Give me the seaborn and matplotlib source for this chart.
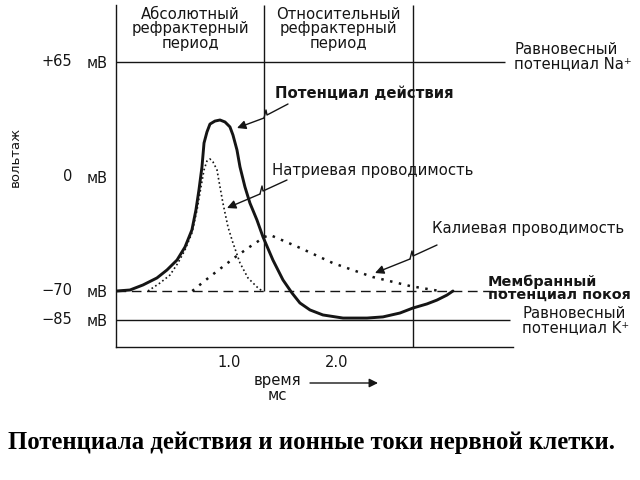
import numpy as np
import pandas as pd
import matplotlib
matplotlib.use("Agg")
import matplotlib.pyplot as plt
from matplotlib.lines import Line2D
import seaborn as sns

# ---------------- data ----------------
ap_time = [-0.04, 0.083, 0.204, 0.333, 0.426, 0.519, 0.593, 0.657, 0.694, 0.722,
           0.750, 0.769, 0.796, 0.824, 0.870, 0.917, 0.963, 1.009, 1.037, 1.074,
           1.102, 1.148, 1.194, 1.259, 1.315, 1.407, 1.500, 1.583, 1.657, 1.750,
           1.870, 2.056, 2.278, 2.426, 2.583, 2.704, 2.833, 2.926, 3.019, 3.074]
ap_mv = [-70, -69.4, -66.3, -62.0, -57.1, -51.0, -43.0, -32.5, -20.3, -8.0,
         5.7, 19.2, 25.4, 29.9, 31.6, 32.2, 31.1, 28.3, 23.7, 15.3,
         5.7, -6.1, -16.0, -26.4, -36.8, -51.0, -63.2, -71.0, -76.2, -79.8,
         -82.4, -84.0, -84.0, -83.4, -81.4, -78.8, -76.7, -74.7, -72.1, -70]

na_time = [0.25, 0.361, 0.454, 0.528, 0.593, 0.657, 0.704, 0.741, 0.769, 0.796,
           0.824, 0.852, 0.889, 0.917, 0.944, 0.991, 1.037, 1.102, 1.176, 1.259, 1.306]
na_mv = [-70, -65.1, -60.2, -52.8, -44.8, -34.4, -20.3, -6.1, 4.0, 9.0,
         10.2, 8.5, 4.0, -6.1, -16.0, -30.7, -40.5, -52.8, -62.0, -67.5, -70]

k_time = [0.66, 0.82, 1.06, 1.19, 1.33, 1.38, 1.66, 1.96, 2.33, 2.68, 2.95]
k_mv = [-70, -61.4, -49.1, -43.0, -36.8, -35.6, -43.6, -52.8, -61.4, -67.0, -70]

level_mv = [65, 0, -70, -85]
level_labels = ["+65", "0", "\u221270", "\u221285"]
na_eq_mv = 65
rest_mv = -70
k_eq_mv = -85

x_ticks = [1.0, 2.0]
x_tick_labels = ["1.0", "2.0"]
abs_refr_end = 1.32
rel_refr_end = 2.70

# ---------------- figure ----------------
sns.set_theme(style="white")
plt.rcParams['font.family'] = ['DejaVu Sans']
INK = "#151515"

W, H = 640, 480
fig = plt.figure(figsize=(6.4, 4.8), dpi=100)
fig.patch.set_facecolor("white")


def P(x, y):
    return (x / W, 1 - y / H)


ax = fig.add_axes([116 / W, 1 - 347 / H, (513 - 116) / W, (347 - 5) / H])
ax.set_facecolor("white")

# schematic (piecewise-linear) voltage axis
knots_mv = np.array([-200, -85, -70, 0, 65, 200])
knots_pos = np.array([160 - 115 * 29 / 15, 160, 189, 303, 418, 418 + 135 * 115 / 65])


def fwd(v):
    return np.interp(v, knots_mv, knots_pos)


def inv(p):
    return np.interp(p, knots_pos, knots_mv)


ax.set_yscale("function", functions=(fwd, inv))
x_lo, x_hi = -0.046, 3.63
y_lo, y_hi = -98.97, 97.2
ax.set_xlim(x_lo, x_hi)
ax.set_ylim(y_lo, y_hi)

# reference lines
line_end = 3.56
ax.hlines(na_eq_mv, x_lo, line_end, color=INK, lw=1.0)
ax.hlines(k_eq_mv, x_lo, 3.60, color=INK, lw=1.0)
ax.hlines(rest_mv, x_lo, line_end, color=INK, lw=1.0, linestyles=(0, (7, 4)))
ax.vlines(abs_refr_end, rest_mv, y_hi, color=INK, lw=1.0)
ax.vlines(rel_refr_end, y_lo, y_hi, color=INK, lw=1.0)

# curves
df_ap = pd.DataFrame({"t": ap_time, "mv": ap_mv})
df_na = pd.DataFrame({"t": na_time, "mv": na_mv})
df_k = pd.DataFrame({"t": k_time, "mv": k_mv})

sns.lineplot(data=df_na, x="t", y="mv", ax=ax, sort=False, estimator=None,
             color=INK, lw=1.2)
ax.lines[-1].set_linestyle((0, (1, 1.6)))
sns.lineplot(data=df_k, x="t", y="mv", ax=ax, sort=False, estimator=None,
             color=INK, lw=1.8)
ax.lines[-1].set_linestyle((0, (1, 2.6)))
sns.lineplot(data=df_ap, x="t", y="mv", ax=ax, sort=False, estimator=None,
             color=INK, lw=2.1)
ax.lines[-1].set_solid_capstyle("round")
ax.lines[-1].set_solid_joinstyle("round")

# axes styling
for s in ("top", "right"):
    ax.spines[s].set_visible(False)
for s in ("left", "bottom"):
    ax.spines[s].set_color(INK)
    ax.spines[s].set_linewidth(1.0)
ax.set_xlabel("")
ax.set_ylabel("")
ax.set_xticks(x_ticks, x_tick_labels)
ax.set_yticks(level_mv, ["мВ"] * len(level_mv))
ax.tick_params(axis="x", direction="in", length=3, width=1, color=INK, pad=6,
               labelsize=10.5, labelcolor=INK)
ax.tick_params(axis="y", direction="out", length=5, width=1, color=INK, pad=1,
               labelsize=10.5, labelcolor=INK)
ax.minorticks_off()

# numbers before "мВ"
blend = matplotlib.transforms.blended_transform_factory(ax.transAxes, ax.transData)
for v, lab in zip(level_mv, level_labels):
    ax.text((72 - 116) / (513 - 116), v, lab, transform=blend, ha="right",
            va="center", fontsize=10.5, color=INK, clip_on=False)

# ---------------- texts ----------------
fs = 10.7
fig.text(*P(190, 29), "Абсолютный\nрефрактерный\nпериод", ha="center", va="center",
         multialignment="center", fontsize=fs, linespacing=0.92, color=INK)
fig.text(*P(338, 29), "Относительный\nрефрактерный\nпериод", ha="center", va="center",
         multialignment="center", fontsize=fs, linespacing=0.92, color=INK)
fig.text(*P(514, 57), "Равновесный\nпотенциал Na\u207a", ha="left", va="center",
         fontsize=fs, linespacing=0.92, color=INK)
fig.text(*P(275, 93), "Потенциал действия", ha="left", va="center",
         fontsize=fs, fontweight="bold", color=INK)
fig.text(*P(272, 170), "Натриевая проводимость", ha="left", va="center",
         fontsize=fs, color=INK)
fig.text(*P(432, 229), "Калиевая проводимость", ha="left", va="center",
         fontsize=fs, color=INK)
fig.text(*P(488, 288), "Мембранный\nпотенциал покоя", ha="left", va="center",
         fontsize=10.4, fontweight="bold", linespacing=0.92, color=INK)
fig.text(*P(522, 321), "Равновесный\nпотенциал K\u207a", ha="left", va="center",
         fontsize=fs, linespacing=0.92, color=INK)
fig.text(*P(15, 157), "вольтаж", rotation=90, ha="center", va="center",
         fontsize=9.5, color=INK)
fig.text(*P(277, 388), "время\nмс", ha="center", va="center",
         multialignment="center", fontsize=fs, linespacing=0.92, color=INK)
fig.text(*P(312, 442), "Потенциала действия и ионные токи нервной клетки.",
         ha="center", va="center", fontsize=17.8, fontweight="bold",
         family="Liberation Serif", color="black")


# zig-zag pointer arrows
def zig(S, A, E):
    J1 = (A[0] - 1, A[1] - 5)
    J2 = (A[0] - 3, A[1] + 3)
    pts = [S, A, J1, J2]
    xs = [p[0] / W for p in pts]
    ys = [1 - p[1] / H for p in pts]
    fig.add_artist(Line2D(xs, ys, transform=fig.transFigure, color=INK, lw=1.0))
    fig.add_artist(matplotlib.patches.FancyArrowPatch(
        P(*J2), P(*E), transform=fig.transFigure, arrowstyle="-|>",
        mutation_scale=13, lw=1.0, color=INK, shrinkA=0, shrinkB=0))


zig((288, 104), (267, 115), (237, 128))
zig((287, 180), (263, 191), (227, 208))
zig((437, 245), (413, 256), (375, 273))

# time arrow
fig.add_artist(matplotlib.patches.FancyArrowPatch(
    P(310, 383), P(378, 383), transform=fig.transFigure, arrowstyle="-|>",
    mutation_scale=13, lw=1.0, color=INK, shrinkA=0, shrinkB=0))

fig.savefig("out.png", dpi=100, facecolor="white")
